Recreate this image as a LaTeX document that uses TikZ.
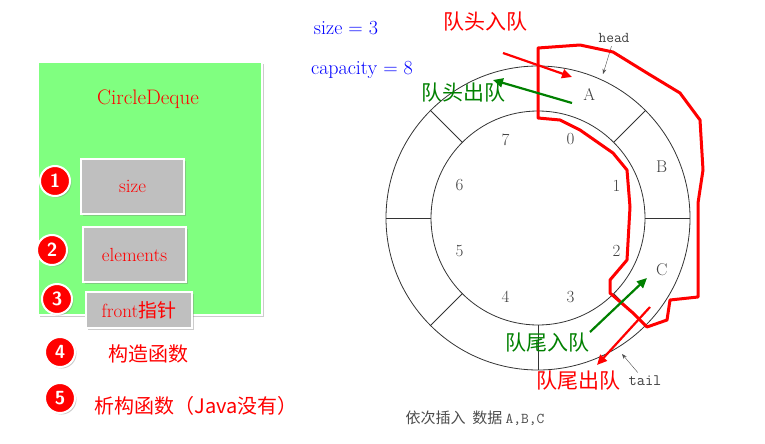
\documentclass[tikz,border=0pt]{standalone}
\usepackage{fontspec}
\newfontfamily\cjk{Noto Sans CJK SC}
\usetikzlibrary{arrows.meta,shadows,calc}
\begin{document}
\begin{tikzpicture}[x=1pt,y=-1pt,
  graybox/.style={draw=white,line width=2pt,fill=gray!50,drop shadow={shadow xshift=2pt,shadow yshift=-2pt,opacity=.4},text=red,font=\fontsize{19}{19}\selectfont},
  bullet/.style={circle,draw=white,line width=2pt,fill=red,text=white,minimum size=30pt,inner sep=0pt,font=\bfseries\sffamily\fontsize{19}{19}\selectfont,drop shadow={shadow xshift=1.5pt,shadow yshift=-1.5pt,opacity=.4}},
  redt/.style={text=red,font=\cjk\fontsize{20}{20}\selectfont},
  arr/.style={-{Triangle[length=10pt,width=9pt]},line width=2.2pt},
  lab/.style={font=\fontsize{17}{17}\selectfont,text=black!75}]
\useasboundingbox (0,0) rectangle (765,444);
% left panel
\node[draw=white,line width=2pt,fill={rgb,255:red,128;green,255;blue,128},minimum width=224pt,minimum height=253pt,drop shadow={shadow xshift=2pt,shadow yshift=-2pt,opacity=.4}] (panel) at (150,188.5) {};
\node[text=red,font=\fontsize{21}{21}\selectfont] (title) at (148,99) {CircleDeque};
\node[graybox,minimum width=103pt,minimum height=55pt] (size) at (132.5,186.5) {size};
\node[graybox,minimum width=103pt,minimum height=55pt] (elem) at (134.5,254.5) {elements};
\node[graybox,minimum width=106pt,minimum height=36pt] (front) at (139,310) {front{\cjk 指针}};
\node[bullet] (b1) at (55,181) {1};
\node[bullet] (b2) at (52,250) {2};
\node[bullet] (b3) at (57,299) {3};
\node[bullet] (b4) at (60,352) {4};
\node[bullet] (b5) at (60,398) {5};
\node[redt] (t4) at (148,354) {构造函数};
\node[redt] (t5) at (196,406) {析构函数（Java没有）};
% top texts
\node[text=blue,font=\fontsize{20}{20}\selectfont] (sz) at (346,28) {size = 3};
\node[text=blue,font=\fontsize{20}{20}\selectfont] (cap) at (362,70) {capacity = 8};
% ring
\coordinate (c) at (538,218);
\draw[black!80,line width=0.8pt] (c) circle[radius=152] (c) circle[radius=107];
\foreach \a in {0,45,...,315} \draw[black!80,line width=0.8pt] ($(c)+(\a:107)$) -- ($(c)+(\a:152)$);
\foreach \i/\a in {0/-67.5,1/-22.5,2/22.5,3/67.5,4/112.5,5/157.5,6/-157.5,7/-112.5}
  \node[lab] at ($(c)+(\a:85)$) {\i};
\node[lab] (A) at ($(c)+(-67.5:134)$) {A};
\node[lab] (B) at ($(c)+(-22.5:134)$) {B};
\node[lab] (C) at ($(c)+(22.5:134)$) {C};
\node[lab,font=\ttfamily\fontsize{15}{15}\selectfont] (head) at (614,38) {head};
\node[lab,font=\ttfamily\fontsize{16}{16}\selectfont] (tail) at (645,381) {tail};
\coordinate (ha) at (603,74);
\coordinate (ta) at (622,354);
\draw[-{Stealth[length=5pt]},black!70] (head) -- (ha);
\draw[-{Stealth[length=5pt]},black!70] (tail) -- (ta);
% red outline
\draw[red,line width=3pt,line join=round]
 (538,48) -- (580,45) -- (613,52) -- (647,73) -- (680,93) -- (700,120) -- (703,170) -- (698,203) -- (698,297) -- (670,300) -- (667,320) -- (647,327) -- (633,313) -- (610,293) -- (610,280) -- (627,260) -- (630,207) -- (627,170) -- (613,153) -- (580,130) -- (560,120) -- (538,118) -- cycle;
% arrows
\coordinate (r1s) at (503,53); \coordinate (r1e) at (572,77);
\coordinate (g1s) at (572,103); \coordinate (g1e) at (493,80);
\coordinate (g2s) at (590,332); \coordinate (g2e) at (647,278);
\coordinate (r2s) at (650,307); \coordinate (r2e) at (597,365);
\draw[arr,red] (r1s) -- (r1e);
\draw[arr,green!50!black] (g1s) -- (g1e);
\draw[arr,green!50!black] (g2s) -- (g2e);
\draw[arr,red] (r2s) -- (r2e);
\node[redt,font=\cjk\fontsize{21}{21}\selectfont] (q1) at (485,22) {队头入队};
\node[redt,text=green!50!black,font=\cjk\fontsize{21}{21}\selectfont] (q2) at (463,93) {队头出队};
\node[redt,text=green!50!black,font=\cjk\fontsize{21}{21}\selectfont] (q3) at (547,343) {队尾入队};
\node[redt,font=\cjk\fontsize{21}{21}\selectfont] (q4) at (578,381) {队尾出队};
\node[text=black!70,font=\cjk\fontsize{15}{15}\selectfont] (cap2) at (475,418) {依次插入\ \ 数据 {\ttfamily A,B,C}};
\end{tikzpicture}
\end{document}
